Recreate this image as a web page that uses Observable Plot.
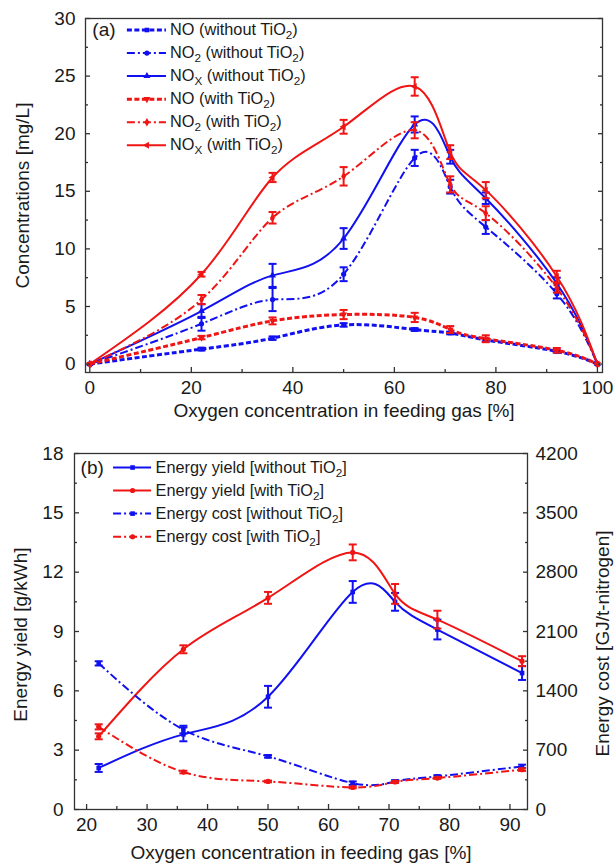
<!DOCTYPE html>
<html>
<head>
<meta charset="utf-8">
<script src="https://cdn.jsdelivr.net/npm/d3@7"></script>
<script src="https://cdn.jsdelivr.net/npm/@observablehq/plot@0.6"></script>
<style>
  body { margin: 0; background: #fff; }
  #chart { width: 614px; }
  #chart svg { display: block; }
</style>
</head>
<body>
<div id="chart"></div>
<script>
// ---------- Panel (a): concentrations vs O2 in feeding gas ----------
const o2A = [0, 22, 36, 50, 64, 71, 78, 92, 100];
const noWithout      = [0, 1.3, 2.25, 3.4, 3.0, 2.7, 2.1, 1.1, 0];
const noWithoutErr   = [0, 0.12, 0.15, 0.15, 0.12, 0.12, 0.12, 0.1, 0];
const no2Without     = [0, 3.5, 5.6, 7.8, 17.9, 15.4, 11.9, 6.1, 0];
const no2WithoutErr  = [0, 0.6, 1.0, 0.6, 0.7, 0.6, 0.6, 0.4, 0];
const noxWithout     = [0, 4.6, 7.7, 10.9, 20.8, 18.0, 14.4, 7.0, 0];
const noxWithoutErr  = [0, 0.6, 1.0, 0.9, 0.7, 0.6, 0.5, 0.5, 0];
const noWith         = [0, 2.3, 3.75, 4.3, 4.05, 3.0, 2.2, 1.2, 0];
const noWithErr      = [0, 0.15, 0.3, 0.4, 0.4, 0.3, 0.3, 0.2, 0];
const no2With        = [0, 5.6, 12.7, 16.3, 20.3, 15.6, 13.1, 6.6, 0];
const no2WithErr     = [0, 0.4, 0.5, 0.8, 0.7, 0.7, 0.6, 0.4, 0];
const noxWith        = [0, 7.8, 16.2, 20.6, 24.1, 18.4, 15.1, 7.6, 0];
const noxWithErr     = [0, 0.2, 0.4, 0.6, 0.8, 0.6, 0.7, 0.5, 0];
const legendA = [
  "NO (without TiO_{2})", "NO_{2} (without TiO_{2})", "NO_{X} (without TiO_{2})",
  "NO (with TiO_{2})", "NO_{2} (with TiO_{2})", "NO_{X} (with TiO_{2})"
];
const xTicksA = [0, 20, 40, 60, 80, 100];
const xMinorA = [10, 30, 50, 70, 90];
const yTicksA = [0, 5, 10, 15, 20, 25, 30];
const yMinorA = [2.5, 7.5, 12.5, 17.5, 22.5, 27.5];

// ---------- Panel (b): energy yield and energy cost ----------
const o2B = [22, 36, 50, 64, 71, 78, 92];
const yieldWithout    = [2.1, 3.8, 5.7, 11.0, 10.5, 9.1, 6.9];
const yieldWithoutErr = [0.2, 0.35, 0.55, 0.55, 0.45, 0.5, 0.35];
const yieldWith       = [3.7, 8.1, 10.7, 13.0, 10.9, 9.6, 7.5];
const yieldWithErr    = [0.15, 0.2, 0.3, 0.4, 0.5, 0.45, 0.25];
const costWithout     = [1724, 943, 627, 311, 331, 390, 509];
const costWithoutErr  = [25, 45, 15, 20, 15, 15, 20];
const costWith        = [975, 442, 331, 260, 325, 371, 470];
const costWithErr     = [30, 15, 10, 10, 10, 10, 15];
const legendB = [
  "Energy yield [without TiO_{2}]", "Energy yield [with TiO_{2}]",
  "Energy cost [without TiO_{2}]", "Energy cost [with TiO_{2}]"
];
const xTicksB = [20, 30, 40, 50, 60, 70, 80, 90];
const xMinorB = [25, 35, 45, 55, 65, 75, 85];
const yTicksB = [0, 3, 6, 9, 12, 15, 18];
const yMinorB = [1.5, 4.5, 7.5, 10.5, 13.5, 16.5];
const costTicks = [0, 700, 1400, 2100, 2800, 3500, 4200];
const costMinor = [350, 1050, 1750, 2450, 3150, 3850];

// ---------- shared styling ----------
const BLUE = "#1010f0", RED = "#f01515", INK = "#1a1a1a", AXIS = "#333";
const FONT = "'Liberation Sans', Arial, sans-serif";
const FS = 19;
const DOTTED = "5,2.5", DASHDOT = "8,3,2,3";
const K = 18 / 4200; // GJ/t-nitrogen -> position on the g/kWh axis

// horizontal stroke used as error-bar cap
const capSymbol = {
  draw(ctx, size) {
    const w = Math.sqrt(size / Math.PI);
    ctx.moveTo(-w, 0);
    ctx.lineTo(w, 0);
  }
};

function series(xs, ys, es, style, scale = 1) {
  return {
    ...style,
    data: xs.map((x, i) => ({x, y: ys[i] * scale, e: es[i] * scale}))
  };
}

function seriesMarks(s) {
  const bars = s.data.filter((d) => d.e > 0);
  const capOpts = {x: "x", symbol: capSymbol, r: 4, fill: "none", stroke: s.color, strokeWidth: 2};
  return [
    Plot.line(s.data, {
      x: "x", y: "y", curve: "natural", stroke: s.color, strokeWidth: s.width,
      strokeDasharray: s.dash, strokeLinecap: "butt"
    }),
    Plot.ruleX(bars, {x: "x", y1: (d) => d.y - d.e, y2: (d) => d.y + d.e, stroke: s.color, strokeWidth: 2}),
    Plot.dot(bars, {...capOpts, y: (d) => d.y + d.e}),
    Plot.dot(bars, {...capOpts, y: (d) => d.y - d.e}),
    Plot.dot(s.data, {x: "x", y: "y", symbol: s.symbol, rotate: s.rotate || 0, r: 2.6, fill: s.color, stroke: "none"})
  ];
}

// legend row: sample line with a marker, followed by the label
function legendMarks(items, labels, ys, x1, x2, xText) {
  return items.flatMap((s, i) => [
    Plot.ruleY([ys[i]], {x1, x2, stroke: s.color, strokeWidth: s.width, strokeDasharray: s.dash, strokeLinecap: "butt"}),
    Plot.dot([ys[i]], {x: (x1 + x2) / 2, y: (d) => d, symbol: s.symbol, rotate: s.rotate || 0, r: 2.6, fill: s.color, stroke: "none"}),
    Plot.text([labels[i]], {x: xText, y: ys[i], text: (d) => d, textAnchor: "start", fontSize: 16.3, fill: INK})
  ]);
}

function axes({xTicks, xMinor, yTicks, yMinor, xPad, yPad, mirrorY}) {
  const common = {label: null, stroke: AXIS, strokeWidth: 1.3, fill: INK, fontSize: FS};
  const marks = [
    Plot.axisX({...common, ticks: xTicks, tickSize: -5, tickPadding: xPad}),
    Plot.axisX({...common, ticks: xMinor, tickSize: -3, tickFormat: () => ""}),
    Plot.axisY({...common, ticks: yTicks, tickSize: -5, tickPadding: yPad}),
    Plot.axisY({...common, ticks: yMinor, tickSize: -3, tickFormat: () => ""})
  ];
  if (mirrorY) {
    marks.push(
      Plot.axisY({...common, anchor: "right", ticks: yTicks, tickSize: -5, tickFormat: () => ""}),
      Plot.axisY({...common, anchor: "right", ticks: yMinor, tickSize: -3, tickFormat: () => ""})
    );
  }
  return marks;
}

// turn "_{...}" into subscript tspans
function applySubscripts(svg) {
  d3.select(svg).selectAll("text").each(function () {
    const t = this.textContent;
    if (!t.includes("_{")) return;
    const parts = t.split(/_\{([^}]*)\}/);
    const el = d3.select(this);
    el.text(null);
    let lowered = false;
    parts.forEach((p, i) => {
      if (!p) return;
      const sub = i % 2 === 1;
      const span = el.append("tspan").text(p);
      if (sub && !lowered) { span.attr("dy", 4).style("font-size", "0.72em"); lowered = true; }
      else if (sub) { span.style("font-size", "0.72em"); }
      else if (lowered) { span.attr("dy", -4); lowered = false; }
    });
  });
}

const titleOpts = {text: (d) => d, fontSize: FS, fill: INK, textAnchor: "middle", lineAnchor: "middle"};

// ---------- Panel (a) ----------
const seriesA = [
  series(o2A, noWithout, noWithoutErr,   {color: BLUE, width: 3, dash: DOTTED, symbol: "square"}),
  series(o2A, no2Without, no2WithoutErr, {color: BLUE, width: 2, dash: DASHDOT, symbol: "circle"}),
  series(o2A, noxWithout, noxWithoutErr, {color: BLUE, width: 2, dash: null, symbol: "triangle"}),
  series(o2A, noWith, noWithErr,         {color: RED, width: 3, dash: DOTTED, symbol: "triangle", rotate: 180}),
  series(o2A, no2With, no2WithErr,       {color: RED, width: 2, dash: DASHDOT, symbol: "diamond"}),
  series(o2A, noxWith, noxWithErr,       {color: RED, width: 2, dash: null, symbol: "triangle", rotate: -90})
];

const plotA = Plot.plot({
  width: 614, height: 425,
  marginTop: 18, marginBottom: 53, marginLeft: 85, marginRight: 12,
  style: {fontFamily: FONT, fontSize: FS + "px", color: INK, background: "#fff"},
  x: {domain: [-0.85, 101]},
  y: {domain: [-0.73, 30]},
  marks: [
    ...seriesA.flatMap(seriesMarks),
    ...legendMarks(seriesA, legendA, [29, 27, 25, 23, 21, 19], 7.4, 15.1, 15.8),
    Plot.text(["(a)"], {x: 0.5, y: 29, text: (d) => d, textAnchor: "start", fontSize: FS, fill: INK}),
    ...axes({xTicks: xTicksA, xMinor: xMinorA, yTicks: yTicksA, yMinor: yMinorA, xPad: 13, yPad: 15, mirrorY: true}),
    Plot.frame({stroke: AXIS, strokeWidth: 1.3}),
    Plot.text(["Oxygen concentration in feeding gas [%]"], {...titleOpts, frameAnchor: "bottom", dy: 38}),
    Plot.text(["Concentrations [mg/L]"], {...titleOpts, frameAnchor: "left", dx: -63, rotate: -90})
  ]
});

// ---------- Panel (b) ----------
const yieldB = [
  series(o2B, yieldWithout, yieldWithoutErr, {color: BLUE, width: 2, dash: null, symbol: "square"}),
  series(o2B, yieldWith, yieldWithErr,       {color: RED, width: 2, dash: null, symbol: "circle"})
];
const costB = [
  series(o2B, costWithout, costWithoutErr, {color: BLUE, width: 2, dash: DASHDOT, symbol: "square"}, K),
  series(o2B, costWith, costWithErr,       {color: RED, width: 2, dash: DASHDOT, symbol: "circle"}, K)
];
const seriesB = [...yieldB, ...costB];

const plotB = Plot.plot({
  width: 614, height: 438,
  marginTop: 28, marginBottom: 54, marginLeft: 74, marginRight: 87,
  style: {fontFamily: FONT, fontSize: FS + "px", color: INK, background: "#fff"},
  x: {domain: [18, 92.9]},
  y: {domain: [0, 18]},
  marks: [
    ...seriesB.flatMap(seriesMarks),
    ...legendMarks(seriesB, legendB, [17.29, 16.13, 14.96, 13.79], 24.46, 30.74, 31.4),
    Plot.text(["(b)"], {x: 19.0, y: 17.29, text: (d) => d, textAnchor: "start", fontSize: FS, fill: INK}),
    ...axes({xTicks: xTicksB, xMinor: xMinorB, yTicks: yTicksB, yMinor: yMinorB, xPad: 13, yPad: 16, mirrorY: false}),
    Plot.axisY({
      anchor: "right", label: null, stroke: AXIS, strokeWidth: 1.3, fill: INK, fontSize: FS,
      ticks: costTicks.map((c) => c * K), tickSize: -5, tickPadding: 13,
      tickFormat: (d) => String(Math.round(d / K))
    }),
    Plot.axisY({
      anchor: "right", label: null, stroke: AXIS, strokeWidth: 1.3,
      ticks: costMinor.map((c) => c * K), tickSize: -3, tickFormat: () => ""
    }),
    Plot.frame({stroke: AXIS, strokeWidth: 1.3}),
    Plot.text(["Oxygen concentration in feeding gas [%]"], {...titleOpts, frameAnchor: "bottom", dy: 43}),
    Plot.text(["Energy yield [g/kWh]"], {...titleOpts, frameAnchor: "left", dx: -54, dy: 3, rotate: -90}),
    Plot.text(["Energy cost [GJ/t-nitrogen]"], {...titleOpts, frameAnchor: "right", dx: 75, dy: 12, rotate: -90})
  ]
});

applySubscripts(plotA);
applySubscripts(plotB);
const root = document.getElementById("chart");
root.append(plotA, plotB);
</script>
</body>
</html>
